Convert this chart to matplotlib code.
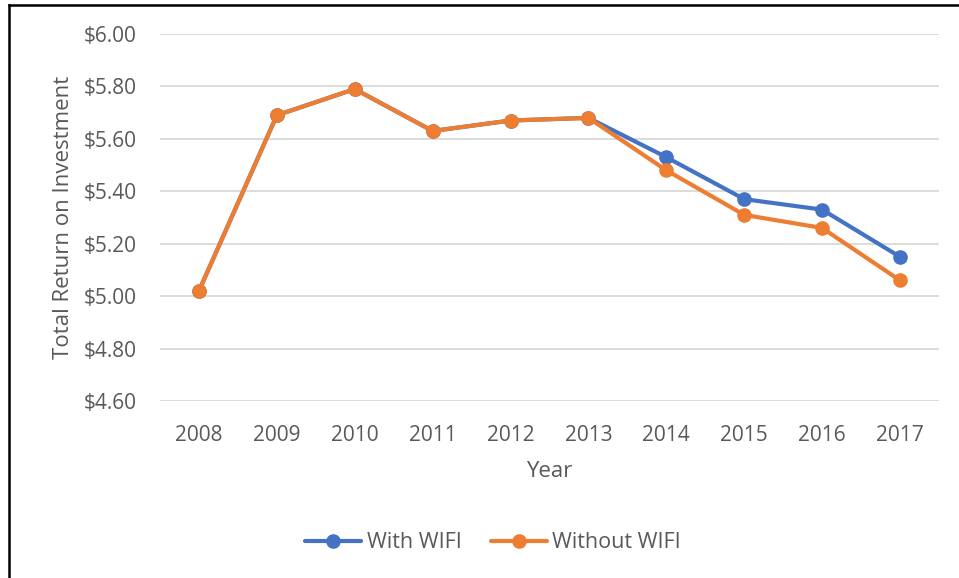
import matplotlib.pyplot as plt
from matplotlib.lines import Line2D

years = ['2008', '2009', '2010', '2011', '2012', '2013', '2014', '2015', '2016', '2017']
with_wifi = [5.02, 5.69, 5.79, 5.63, 5.67, 5.68, 5.53, 5.37, 5.33, 5.15]
without_wifi = [5.02, 5.69, 5.79, 5.63, 5.67, 5.68, 5.48, 5.31, 5.26, 5.06]
y_ticks = [4.6, 4.8, 5.0, 5.2, 5.4, 5.6, 5.8, 6.0]

plt.rcParams['font.family'] = ['Open Sans', 'DejaVu Sans']
grey = '#595959'

fig = plt.figure(figsize=(9.59, 5.78), dpi=100)
ax = fig.add_axes([160 / 959, 1 - 401 / 578, (939 - 160) / 959, (401 - 34) / 578])

x = range(len(years))
ax.plot(x, with_wifi, color='#4472C4', lw=3, marker='o', ms=9.5, label='With WIFI',
        solid_capstyle='round', zorder=3)
ax.plot(x, without_wifi, color='#ED7D31', lw=3, marker='o', ms=9.5, label='Without WIFI',
        solid_capstyle='round', zorder=4)

ax.set_xlim(-0.5, len(years) - 0.5)
ax.set_ylim(4.6, 6.0)
ax.set_xticks(list(x))
ax.set_xticklabels(years)
ax.set_yticks(y_ticks)
ax.set_yticklabels(['${:.2f}'.format(v) for v in y_ticks])
ax.tick_params(length=0, labelsize=15, colors=grey)
ax.tick_params(axis='y', pad=16.5)
ax.tick_params(axis='x', pad=17.5)
ax.grid(axis='y', color='#D9D9D9', lw=1.3)
ax.set_axisbelow(True)
for s in ax.spines.values():
    s.set_visible(False)

ax.set_ylabel('Total Return on Investment', fontsize=16, color=grey, labelpad=7)
ax.set_xlabel('Year', fontsize=16, color=grey, labelpad=10.5)

fig.legend(loc='center', bbox_to_anchor=(493 / 959, 1 - 543 / 578), ncol=2, frameon=False,
           fontsize=15.5, labelcolor=grey, handlelength=2.6, columnspacing=1.35,
           handletextpad=0.25)

# outer border (only left and top visible)
fig.add_artist(Line2D([9 / 959, 9 / 959], [0, 1 - 5 / 578], color='black', lw=1.8,
                      transform=fig.transFigure))
fig.add_artist(Line2D([9 / 959, 1], [1 - 5 / 578, 1 - 5 / 578], color='black', lw=1.8,
                      transform=fig.transFigure))

fig.savefig('out.png', dpi=100)
